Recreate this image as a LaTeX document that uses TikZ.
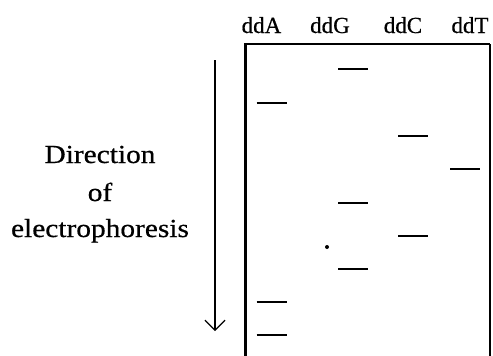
\documentclass[tikz,border=0pt]{standalone}
\usepackage{fontspec}
\setmainfont{Liberation Serif}
\newfontfamily\widefont[FakeStretch=1.13, FakeBold=0.6]{Liberation Serif}
\newfontfamily\lanefont[FakeBold=0.6]{Liberation Serif}
\usetikzlibrary{positioning}
\usetikzlibrary{arrows.meta}

\begin{document}
\begin{tikzpicture}[x=1pt, y=-1pt,
        lane/.style={font=\lanefont\fontsize{23}{26}\selectfont, anchor=base, inner sep=0pt},
        caption/.style={font=\widefont\fontsize{26}{30}\selectfont, anchor=base, inner sep=0pt},
        band/.style={line width=2pt}]
        \useasboundingbox (0,0) rectangle (493,356);
        % lane labels
        \node[lane] (ddA) at (261.5,33) {ddA};
        \node[lane] (ddG) at (330,33) {ddG};
        \node[lane] (ddC) at (403,33) {ddC};
        \node[lane] (ddT) at (470,33) {ddT};
        % gel frame
        \draw[line width=3pt] (245,356) -- (245,44);
        \draw[line width=2pt] (244,44) -- (490,44);
        \draw[line width=1.5pt] (490,44) -- (490,356);
        % bands
        \foreach \x/\y in {353/69, 271.5/103, 413/136, 465/169, 353/203,
                           413/236, 353/269, 271.5/302, 271.5/335}
          \draw[band] (\x-15,\y) -- (\x+15,\y);
        \fill (327,247) circle (2pt);
        % direction
        \coordinate (runstart) at (215,60);
        \coordinate (runend) at (215,331);
        \draw[line width=1.2pt, -{Straight Barb[length=10pt, width=20pt, line width=1.2pt]}] (runstart) -- (runend);
        \node[caption] (dir) at (100,163) {Direction};
        \node[caption] (of) at (100,201) {of};
        \node[caption] (electro) at (100,237) {electrophoresis};
    \end{tikzpicture}
\end{document}
